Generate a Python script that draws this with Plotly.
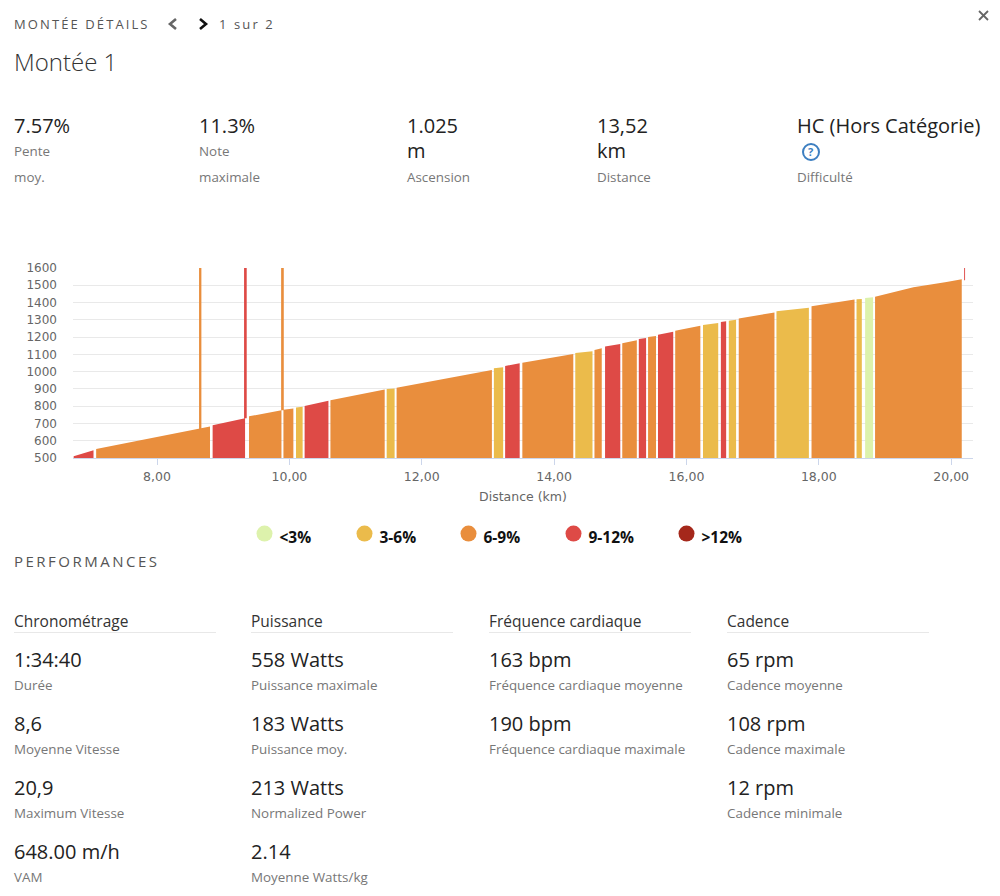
import plotly.graph_objects as go

# ---- chart data (km, metres) ----
seg_start = [6.74, 7.08, 8.84, 9.39, 9.91, 10.10, 10.23, 10.62, 11.47, 11.62, 13.09, 13.26, 13.52, 14.32, 14.61,
             14.77, 15.03, 15.28, 15.42, 15.57, 15.83, 16.25, 16.52, 16.64, 16.79, 17.36, 17.89, 18.57, 18.70,
             18.85, 19.43, 19.93]
seg_end = [7.04, 8.80, 9.33, 9.88, 10.06, 10.20, 10.59, 11.44, 11.59, 13.06, 13.23, 13.48, 14.29, 14.58, 14.72,
           15.00, 15.25, 15.39, 15.54, 15.80, 16.21, 16.48, 16.60, 16.75, 17.33, 17.85, 18.54, 18.65, 18.82,
           19.43, 19.93, 20.16]
seg_elev_start = [510, 552, 689, 741, 780, 793, 801, 835, 900, 907, 1019, 1033, 1052, 1108, 1125,
                  1145, 1164, 1189, 1200, 1214, 1237, 1270, 1287, 1295, 1307, 1349, 1378, 1419, 1426,
                  1434, 1488, 1519]
seg_elev_end = [545, 683, 730, 776, 786, 797, 832, 896, 903, 1010, 1025, 1048, 1102, 1118, 1135,
                1160, 1181, 1195, 1206, 1231, 1266, 1282, 1291, 1301, 1343, 1370, 1417, 1421, 1430,
                1488, 1519, 1535]
seg_class = ["9-12%", "6-9%", "9-12%", "6-9%", "6-9%", "3-6%", "9-12%", "6-9%", "3-6%", "6-9%", "3-6%", "9-12%",
             "6-9%", "3-6%", "6-9%", "9-12%", "6-9%", "9-12%", "6-9%", "9-12%", "6-9%", "3-6%", "9-12%", "3-6%",
             "6-9%", "3-6%", "6-9%", "3-6%", "<3%", "6-9%", "6-9%", "6-9%"]

spike_start = [8.635, 9.315, 9.875, 20.196]
spike_end = [8.670, 9.355, 9.915, 20.210]
spike_base = [670, 730, 776, 1529]
spike_class = ["6-9%", "9-12%", "6-9%", "9-12%"]
spike_top = 1600

classes = ["<3%", "3-6%", "6-9%", "9-12%", ">12%"]
y_ticks = [500, 600, 700, 800, 900, 1000, 1100, 1200, 1300, 1400, 1500, 1600]
x_ticks = [8, 10, 12, 14, 16, 18, 20]
x_labels = ["8,00", "10,00", "12,00", "14,00", "16,00", "18,00", "20,00"]
x_title = "Distance (km)"

# ---- page text ----
summary_values = [["7.57%"], ["11.3%"], ["1.025", "m"], ["13,52", "km"], ["HC (Hors Catégorie)"]]
summary_labels = [["Pente", "moy."], ["Note", "maximale"], ["Ascension"], ["Distance"], ["Difficulté"]]
perf_titles = ["Chronométrage", "Puissance", "Fréquence cardiaque", "Cadence"]
perf_values = [["1:34:40", "8,6", "20,9", "648.00 m/h"],
               ["558 Watts", "183 Watts", "213 Watts", "2.14"],
               ["163 bpm", "190 bpm"],
               ["65 rpm", "108 rpm", "12 rpm"]]
perf_labels = [["Durée", "Moyenne Vitesse", "Maximum Vitesse", "VAM"],
               ["Puissance maximale", "Puissance moy.", "Normalized Power", "Moyenne Watts/kg"],
               ["Fréquence cardiaque moyenne", "Fréquence cardiaque maximale"],
               ["Cadence moyenne", "Cadence maximale", "Cadence minimale"]]

# ---- styles ----
W, H = 1000, 896
colors = {"<3%": "#DDF2AC", "3-6%": "#EBBB4B", "6-9%": "#E98E3D", "9-12%": "#DE4A46", ">12%": "#A5281B"}
UI = "Open Sans, sans-serif"
CHART = "DejaVu Sans, sans-serif"
floor = y_ticks[0]
PLOT_L, PLOT_R, PLOT_T, PLOT_B = 73, 973, 268, 458

fig = go.Figure()

for c in classes:
    xs, ys = [], []
    for s, e, a, b, k in zip(seg_start, seg_end, seg_elev_start, seg_elev_end, seg_class):
        if k == c:
            xs += [s, e, e, s, s, None]
            ys += [floor, floor, b, a, floor, None]
    for s, e, base, k in zip(spike_start, spike_end, spike_base, spike_class):
        if k == c:
            xs += [s, e, e, s, s, None]
            ys += [base, base, spike_top, spike_top, base, None]
    fig.add_trace(go.Scatter(x=xs or [None], y=ys or [None], mode="lines", fill="toself",
                             fillcolor=colors[c], line=dict(width=0), showlegend=False,
                             hoverinfo="skip", name=c))

# legend entries
legend_widths = {"<3%": 55, "3-6%": 59, "6-9%": 60, "9-12%": 68, ">12%": 68}
for c in classes:
    fig.add_trace(go.Scatter(x=[None], y=[None], mode="markers", name=c,
                             marker=dict(color=colors[c], size=16), showlegend=True,
                             legendwidth=legend_widths[c]))


def text(s, x, y, size, color, weight=400, family=UI):
    fig.add_annotation(text=s, x=(x - 1) / W, y=1 - (y - 0.5) / H, xref="paper", yref="paper", xanchor="left",
                       yanchor="middle", showarrow=False, align="left", borderpad=0,
                       font=dict(family=family, size=size, color=color, weight=weight))


def hline(x0, x1, y, color="#E8E8E8"):
    fig.add_shape(type="line", xref="paper", yref="paper", x0=x0 / W, x1=x1 / W, y0=1 - y / H, y1=1 - y / H,
                  line=dict(color=color, width=1))


def poly(points, color, width=2):
    path = "M " + " L ".join(f"{px / W:.5f},{1 - py / H:.5f}" for px, py in points)
    fig.add_shape(type="path", xref="paper", yref="paper", path=path, line=dict(color=color, width=width))


# header
text("MONTÉE DÉTAILS", 14, 24, 13, "#555555")
text("1 sur 2", 219, 24, 13, "#555555")
text("Montée 1", 14, 62, 24, "#333333", weight=300)
poly([(176, 19), (170, 24), (176, 29)], "#666666", 2.6)
poly([(200, 19), (206, 24), (200, 29)], "#111111", 2.6)
poly([(979, 11), (988, 20)], "#666666", 1.8)
poly([(988, 11), (979, 20)], "#666666", 1.8)

# summary row
sum_x = [14, 199, 407, 597, 797]
val_y = [126, 151]
for x, vals, labs in zip(sum_x, summary_values, summary_labels):
    for y, v in zip(val_y, vals):
        text(v, x, y, 20, "#222222")
    lab_y = [151, 177] if len(labs) == 2 else [177]
    for y, v in zip(lab_y, labs):
        text(v, x, y, 13.4, "#777777")
fig.add_shape(type="circle", xref="paper", yref="paper", x0=803 / W, x1=819 / W, y0=1 - 160 / H, y1=1 - 144 / H,
              line=dict(color="#3D7FC1", width=2))
text("?", 808, 152, 11, "#3D7FC1", weight=700)

# performance block
text("PERFORMANCES", 14, 561, 15, "#555555")
perf_x = [14, 251, 489, 727]
for x, title, vals, labs in zip(perf_x, perf_titles, perf_values, perf_labels):
    text(title, x, 621, 15.5, "#333333")
    hline(x, x + 202, 632.5)
    for i, (v, l) in enumerate(zip(vals, labs)):
        text(v, x, 660 + 64 * i, 20, "#222222")
        text(l, x, 685 + 64 * i, 13.4, "#777777")

fig.update_layout(
    width=W, height=H, margin=dict(l=0, r=0, t=0, b=0), paper_bgcolor="white", plot_bgcolor="white",
    hovermode=False, font=dict(family=CHART, size=12, color="#666666"),
    legend=dict(orientation="h", x=0.2445, y=1 - 534 / H, xanchor="left", yanchor="middle", bgcolor="rgba(0,0,0,0)",
                font=dict(family=UI, size=15.5, color="#111111", weight=700), traceorder="normal",
                itemclick=False, itemdoubleclick=False),
    xaxis=dict(domain=[PLOT_L / W, PLOT_R / W], range=[6.73, 20.33], tickvals=x_ticks, ticktext=x_labels,
               showgrid=False, zeroline=False, showline=True, linecolor="#CCD6EB", linewidth=1,
               ticks="outside", ticklen=6, tickcolor="#CCD6EB", tickfont=dict(size=12.5, color="#666666"),
               ticklabelstandoff=1, title=dict(text=x_title, font=dict(size=12.5, color="#666666"), standoff=9),
               automargin=False),
    yaxis=dict(domain=[1 - PLOT_B / H, 1 - PLOT_T / H], range=[500, 1600], tickvals=y_ticks,
               showgrid=True, gridcolor="#E9E9E9", gridwidth=1, zeroline=False, showline=False,
               ticks="", tickfont=dict(size=12, color="#666666"), ticklabelstandoff=15, automargin=False),
)

post = """
document.documentElement.style.margin='0';document.body.style.margin='0';
var gd=document.getElementById('{plot_id}');
var sp={'MONTÉE DÉTAILS':2.1,'1 sur 2':2.1,'PERFORMANCES':2.5};
gd.querySelectorAll('.annotation-text').forEach(function(t){
  var k=t.textContent; if(sp[k]){ t.style.letterSpacing=sp[k]+'px'; }
});
gd.querySelectorAll('.legendtext').forEach(function(t){
  t.setAttribute('x',parseFloat(t.getAttribute('x'))-5);
  t.setAttribute('y',parseFloat(t.getAttribute('y'))+3);
});
"""
fig.write_html("out.html", post_script=post, config=dict(displayModeBar=False))
